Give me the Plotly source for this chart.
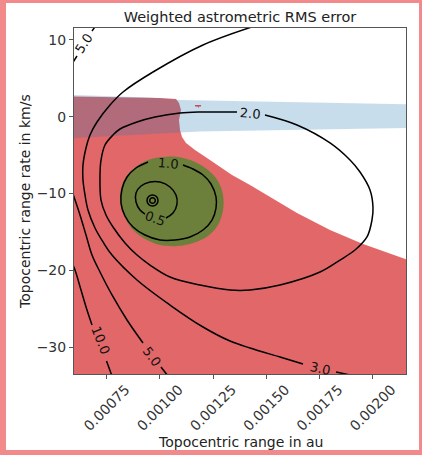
import plotly.graph_objects as go

# ---------------- axes ----------------
x_range = [0.0005963, 0.0021564]
y_range = [-33.5, 11.55]
x_tick_vals = [0.00075, 0.00100, 0.00125, 0.00150, 0.00175, 0.00200]
x_tick_text = ["0.00075", "0.00100", "0.00125", "0.00150", "0.00175", "0.00200"]
y_tick_vals = [-30, -20, -10, 0, 10]
y_tick_text = ["\u221230", "\u221220", "\u221210", "0", "10"]

# ---------------- filled regions ----------------
red_x = [0.00059, 0.0008125, 0.0010004, 0.0010756, 0.0010897, 0.0010991, 0.0010897, 0.0010944,
         0.0011038, 0.0011226, 0.0011649, 0.0012213, 0.0012824, 0.0013388, 0.0014234, 0.0014938,
         0.0015643, 0.0016442, 0.0017993, 0.0019544, 0.00217, 0.00217, 0.00059]
red_y = [2.63, 2.57, 2.44, 2.31, 1.78, 0.87, -0.43, -1.73, -2.64, -3.42, -4.34, -5.38, -6.55,
         -7.59, -8.89, -10.06, -11.24, -12.54, -14.75, -16.57, -18.70, -34.0, -34.0]

blue_x = [0.00059, 0.0009535, 0.0010944, 0.0014234, 0.00217, 0.00217, 0.0016583, 0.0011884, 0.0010004, 0.00059]
blue_y = [2.83, 2.50, 2.17, 1.98, 1.60, -1.47, -1.73, -1.93, -2.19, -2.77]

green_x = [0.0008125, 0.0008219, 0.0008501, 0.0008924, 0.0009441, 0.0010098, 0.0010850, 0.0011649,
           0.0012260, 0.0012730, 0.0012965, 0.0012965, 0.0012730, 0.0012260, 0.0011555, 0.0010803,
           0.0010004, 0.0009300, 0.0008736, 0.0008360, 0.0008172]
green_y = [-10.45, -8.89, -7.46, -6.42, -5.64, -5.25, -5.25, -5.90, -6.94, -8.37, -10.19, -12.15,
           -14.10, -15.53, -16.44, -16.84, -16.71, -15.92, -14.75, -13.19, -11.76]

mark_x = [0.0011649, 0.0011931, 0.0011931, 0.0011837, 0.0011813, 0.0011766, 0.0011649]
mark_y = [1.52, 1.52, 1.33, 1.33, 1.13, 1.33, 1.33]

# ---------------- contour lines (segments between inline labels) ----------------
c20_x = [0.0014938, 0.0016442, 0.0017993, 0.0018933, 0.0019403, 0.0019873, 0.0020013, 0.0019966,
         0.0019731, 0.0019168, 0.0018463, 0.0017523, 0.0015643, 0.0014234, 0.0013294, 0.0011884,
         0.0010474, 0.0009535, 0.0008924, 0.0008360, 0.0007796, 0.0007467, 0.0007232, 0.0007185,
         0.0007232, 0.0007420, 0.0007796, 0.0008125, 0.0008924, 0.0009770, 0.0010944, 0.0011884, 0.0013623]
c20_y = [0.22, -1.08, -3.42, -5.64, -7.20, -9.54, -11.76, -13.45, -15.66, -17.36, -18.66, -20.22,
         -21.91, -22.56, -22.56, -21.91, -20.87, -19.31, -18.01, -16.44, -14.36, -12.80, -10.85, -7.59,
         -5.64, -3.68, -2.38, -1.60, -0.69, -0.04, 0.48, 0.61, 0.61]

c30a_x = [0.00146, 0.0012025, 0.0009675, 0.0008266, 0.0007655, 0.0007044, 0.0006715, 0.0006527,
          0.0006386, 0.0006386, 0.0006480, 0.0006621, 0.0006950, 0.0007326, 0.0007749, 0.0008924,
          0.0010474, 0.0012025, 0.0013294, 0.0014234, 0.0015643, 0.0016724]
c30a_y = [11.94, 9.34, 5.82, 3.22, 1.52, -0.69, -2.38, -4.08, -6.29, -8.24, -10.19, -12.15, -14.49,
          -16.31, -18.01, -21.26, -24.52, -27.38, -29.21, -30.12, -31.29, -32.20]
c30b_x = [0.0018275, 0.0018933]
c30b_y = [-33.24, -33.63]

c50a_x = [0.0005775, 0.0005963, 0.0006245, 0.0006527, 0.0006809, 0.0007185, 0.0007749, 0.0008454, 0.0009206]
c50a_y = [-8.89, -10.45, -12.80, -15.40, -18.01, -20.22, -23.21, -26.47, -29.46]
c50b_x = [0.0010051, 0.0010380]
c50b_y = [-32.59, -33.76]
c50c_x = [0.0005775, 0.0005869, 0.0006104]
c50c_y = [6.34, 6.86, 7.90]
c50d_x = [0.0006809, 0.0007044]
c50d_y = [11.16, 12.07]

c100a_x = [0.0005869, 0.0006010, 0.0006292, 0.0006574, 0.0006809]
c100a_y = [-19.05, -19.96, -22.56, -25.17, -27.12]
c100b_x = [0.0007490, 0.0007749]
c100b_y = [-31.81, -33.76]

c10_x = [0.0011085, 0.0011555, 0.0012025, 0.0012401, 0.0012636, 0.0012636, 0.0012448, 0.0012025,
         0.0011414, 0.0010709, 0.0010004, 0.0009300, 0.0008736, 0.0008360, 0.0008172, 0.0008219,
         0.0008454, 0.0008877, 0.0009441]
c10_y = [-6.29, -6.81, -7.59, -8.76, -10.45, -11.89, -13.45, -14.75, -15.66, -16.05, -16.05, -15.40,
         -14.36, -12.93, -11.24, -9.41, -7.85, -6.68, -5.90]

c05_x = [0.0010286, 0.0010615, 0.0010803, 0.0010756, 0.0010474, 0.0010004, 0.0009535, 0.0009112,
         0.0008877, 0.0008877, 0.0009065, 0.0009300]
c05_y = [-13.19, -12.54, -11.37, -10.19, -9.15, -8.50, -8.50, -9.02, -9.93, -11.11, -12.15, -12.67]

ring_outer_x = [0.0009910, 0.0009835, 0.0009652, 0.0009469, 0.0009394, 0.0009469, 0.0009652, 0.0009835, 0.0009910]
ring_outer_y = [-10.91, -10.40, -10.19, -10.40, -10.91, -11.42, -11.63, -11.42, -10.91]
ring_inner_x = [0.0009784, 0.0009746, 0.0009652, 0.0009558, 0.0009520, 0.0009558, 0.0009652, 0.0009746, 0.0009784]
ring_inner_y = [-10.91, -10.65, -10.55, -10.65, -10.91, -11.17, -11.28, -11.17, -10.91]

# ---------------- contour labels ----------------
label_text = ["5.0", "2.0", "1.0", "0.5", "10.0", "5.0", "3.0"]
label_x = [0.0006433, 0.0014234, 0.0010380, 0.0009770, 0.0007185, 0.0009629, 0.0017523]
label_y = [9.47, 0.48, -6.03, -13.19, -29.07, -31.16, -32.72]
label_angle = [-57, 5, 5, 20, 68, 53, 12]

FONT = "DejaVu Sans"
fig = go.Figure()

def fill_trace(xs, ys, color, shape="linear"):
    fig.add_trace(go.Scatter(x=xs, y=ys, mode="lines", fill="toself", fillcolor=color,
                             line=dict(width=0, color=color, shape=shape),
                             hoverinfo="skip", showlegend=False))

fill_trace(red_x, red_y, "rgba(214,39,40,0.7)")
fill_trace(blue_x, blue_y, "rgba(31,119,180,0.25)")
fill_trace(green_x + green_x[:1], green_y + green_y[:1], "rgb(108,128,60)", "spline")
fill_trace(mark_x, mark_y, "rgba(200,60,80,0.9)")

line_segments = [(c30a_x, c30a_y), (c30b_x, c30b_y), (c50a_x, c50a_y), (c50b_x, c50b_y),
                 (c50c_x, c50c_y), (c50d_x, c50d_y), (c100a_x, c100a_y), (c100b_x, c100b_y),
                 (c20_x, c20_y), (c10_x, c10_y), (c05_x, c05_y),
                 (ring_outer_x, ring_outer_y), (ring_inner_x, ring_inner_y)]
for xs, ys in line_segments:
    fig.add_trace(go.Scatter(x=xs, y=ys, mode="lines",
                             line=dict(color="black", width=1.5, shape="spline", smoothing=1.0),
                             hoverinfo="skip", showlegend=False))

for t, x, y, a in zip(label_text, label_x, label_y, label_angle):
    fig.add_annotation(x=x, y=y, text=t, textangle=a, showarrow=False,
                       xanchor="center", yanchor="middle",
                       font=dict(family=FONT, size=13, color="#111"))

# axis titles
fig.add_annotation(xref="paper", yref="paper", x=0.5, y=-0.1965, text="Topocentric range in au",
                   showarrow=False, xanchor="center", yanchor="middle",
                   font=dict(family=FONT, size=14, color="#222"))
fig.add_annotation(xref="paper", yref="paper", x=-0.1476, y=0.5, text="Topocentric range rate in km/s",
                   showarrow=False, textangle=-90, xanchor="center", yanchor="middle",
                   font=dict(family=FONT, size=14, color="#222"))

# white card inside pink frame
fig.add_shape(type="rect", xref="paper", yref="paper", x0=-0.2048, x1=1.0392, y0=-0.2197, y1=1.0723,
              fillcolor="white", line=dict(width=0), layer="below")

axis_common = dict(showgrid=False, zeroline=False, showline=True, mirror=True, automargin=False,
                   linecolor="#555", linewidth=1, ticks="outside", ticklen=4,
                   tickcolor="#555", tickfont=dict(family=FONT, size=14, color="#333"))
fig.update_xaxes(range=x_range, tickvals=x_tick_vals, ticktext=x_tick_text, tickangle=-45,
                 ticklabelshift=19, ticklabelstandoff=-3, **axis_common)
fig.update_yaxes(range=y_range, tickvals=y_tick_vals, ticktext=y_tick_text, **axis_common)

fig.update_layout(
    width=422, height=455,
    margin=dict(l=74, r=16, t=28, b=81, pad=0, autoexpand=False),
    paper_bgcolor="#f28a8c", plot_bgcolor="white",
    title=dict(text="Weighted astrometric RMS error", x=0.5, xref="paper",
               y=1 - 16.7 / 455, yref="container", xanchor="center", yanchor="middle",
               font=dict(family=FONT, size=14.5, color="#222")),
)

fig.write_html("out.html", config={"displayModeBar": False},
               post_script="document.body.style.margin='0';")
